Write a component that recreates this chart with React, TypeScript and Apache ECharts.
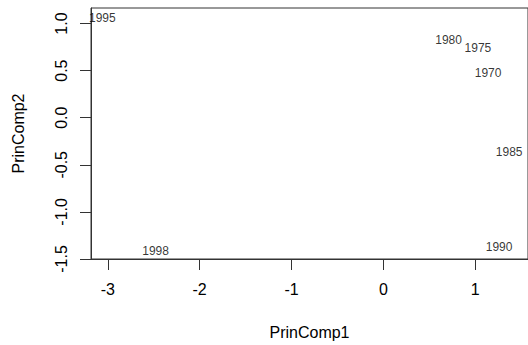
import React, { useEffect, useRef } from "react";
import * as echarts from "echarts";

const years = ["1970", "1975", "1980", "1985", "1990", "1995", "1998"];
const pc1 = [1.14, 1.03, 0.71, 1.37, 1.26, -3.06, -2.48];
const pc2 = [0.48, 0.74, 0.82, -0.36, -1.37, 1.06, -1.41];
const xTicks = [-3, -2, -1, 0, 1];
const yTicks = [-1.5, -1.0, -0.5, 0.0, 0.5, 1.0];

const FONT = "'Liberation Sans', Arial, Helvetica, sans-serif";

export default function App() {
  const ref = useRef<HTMLDivElement>(null);
  useEffect(() => {
    if (!ref.current) return;
    const chart = echarts.init(ref.current, undefined, { renderer: "svg" });
    const data = years.map((y, i) => [pc1[i], pc2[i], y]);
    chart.setOption({
      animation: false,
      backgroundColor: "#ffffff",
      textStyle: { fontFamily: FONT },
      grid: {
        left: 91,
        right: -4,
        top: 8,
        bottom: 85,
        show: true,
        borderColor: "#333",
        borderWidth: 1,
        containLabel: false,
      },
      xAxis: {
        type: "value",
        min: -3.183,
        max: 1.575,
        name: "PrinComp1",
        nameLocation: "middle",
        nameGap: 65,
        nameTextStyle: { fontSize: 16, color: "#000", fontFamily: FONT },
        splitLine: { show: false },
        axisLine: { show: true, onZero: false, lineStyle: { color: "#333", width: 1 } },
        axisTick: { show: true, length: 11, customValues: xTicks, lineStyle: { color: "#333" } },
        axisLabel: {
          customValues: xTicks,
          margin: 22,
          fontSize: 16,
          color: "#000",
          fontFamily: FONT,
          formatter: (v: number) => String(v),
        },
      },
      yAxis: {
        type: "value",
        min: -1.5,
        max: 1.165,
        name: "PrinComp2",
        nameLocation: "middle",
        nameGap: 65,
        nameRotate: 90,
        nameTextStyle: { fontSize: 16, color: "#000", fontFamily: FONT },
        splitLine: { show: false },
        axisLine: { show: true, onZero: false, lineStyle: { color: "#333", width: 1 } },
        axisTick: { show: true, length: 11, customValues: yTicks, lineStyle: { color: "#333" } },
        axisLabel: {
          customValues: yTicks,
          rotate: 90,
          margin: 22,
          fontSize: 16,
          color: "#000",
          fontFamily: FONT,
          formatter: (v: number) => v.toFixed(1),
        },
      },
      series: [
        {
          type: "scatter",
          data,
          symbolSize: 1,
          itemStyle: { color: "rgba(0,0,0,0)" },
          label: {
            show: true,
            position: "inside",
            formatter: (p: any) => p.value[2],
            fontSize: 12,
            color: "#000",
            textBorderWidth: 0,
            textBorderColor: "transparent",
            fontFamily: FONT,
          },
        },
      ],
    });
    return () => chart.dispose();
  }, []);
  return (
    <div
      ref={ref}
      style={{ position: "fixed", left: 0, top: 0, width: 528, height: 345, background: "#fff" }}
    />
  );
}
